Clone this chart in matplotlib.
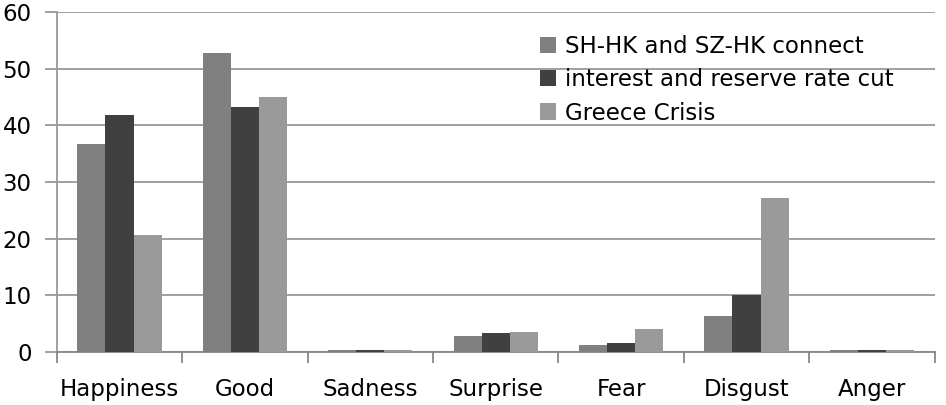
import numpy as np
import matplotlib.pyplot as plt

categories = ['Happiness', 'Good', 'Sadness', 'Surprise', 'Fear', 'Disgust', 'Anger']
sh_hk = [36.7, 52.8, 0.3, 2.8, 1.2, 6.4, 0.3]
rate_cut = [41.8, 43.3, 0.3, 3.3, 1.6, 10.0, 0.3]
greece = [20.7, 45.0, 0.3, 3.6, 4.0, 27.1, 0.3]
series_names = ['SH-HK and SZ-HK connect', 'interest and reserve rate cut', 'Greece Crisis']
colors = ['#808080', '#404040', '#9a9a9a']

plt.rcParams['font.family'] = ['DejaVu Sans']

fig = plt.figure(figsize=(9.46, 4.05), dpi=100)
ax = fig.add_axes([0.060, 0.131, 0.928, 0.839])

x = np.arange(len(categories))
w = 0.224
for i, (vals, name) in enumerate(zip([sh_hk, rate_cut, greece], series_names)):
    ax.bar(x + (i - 1) * w, vals, width=w, color=colors[i], label=name,
           edgecolor='none', zorder=3)

ax.set_xlim(-0.5, len(categories) - 0.5)
ax.set_ylim(0, 60)
ax.set_yticks(range(0, 61, 10))
ax.yaxis.grid(True, color='#999999', linewidth=1.3, zorder=0)
ax.set_axisbelow(True)

# category labels at centres, tick marks at boundaries
ax.set_xticks(x)
ax.set_xticklabels(categories, fontsize=16.5, fontweight='medium')
ax.tick_params(axis='x', length=0, pad=19)
ax.set_xticks(np.arange(-0.5, len(categories), 1), minor=True)
ax.tick_params(axis='x', which='minor', length=8, width=1.3, color='#888888', direction='out')
ax.tick_params(axis='y', length=9, width=1.3, color='#999999', labelsize=16.5, pad=9)
for t in ax.get_yticklabels():
    t.set_fontweight('medium')

for s in ['top', 'right']:
    ax.spines[s].set_visible(False)
ax.spines['left'].set_color('#999999')
ax.spines['bottom'].set_color('#888888')
ax.spines['left'].set_linewidth(1.3)
ax.spines['bottom'].set_linewidth(1.3)

ax.legend(loc='upper left', bbox_to_anchor=(0.54, 0.96), frameon=False,
          prop={'size': 16.5, 'weight': 'medium'}, handlelength=0.7, handleheight=0.7,
          handletextpad=0.4, labelspacing=0.45, borderaxespad=0)

plt.savefig('out.png', dpi=100)
